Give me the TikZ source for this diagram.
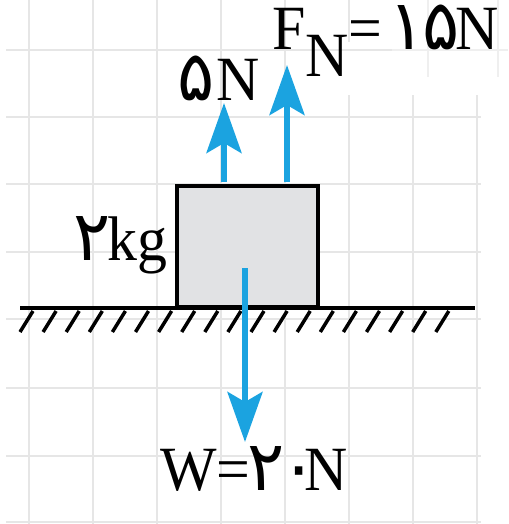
\documentclass[tikz,border=0pt]{standalone}
\usepackage{fontspec}
\setmainfont{Liberation Serif}[FakeStretch=0.95]
\newfontfamily\fa[Script=Arabic,Scale=1.1]{DejaVu Sans}
\usetikzlibrary{arrows.meta}
\definecolor{gridc}{HTML}{E6E6E6}
\definecolor{gridf}{HTML}{EFEFEF}
\definecolor{boxc}{HTML}{E1E2E4}
\definecolor{forcec}{HTML}{1BA3E0}
\tikzset{
  gridline/.style={draw=gridc, line width=2.5pt},
  gridfaint/.style={draw=gridf, line width=2pt},
  blockbox/.style={draw=black, fill=boxc, line width=4pt, minimum width=141pt, minimum height=121pt, inner sep=0pt},
  groundline/.style={draw=black, line width=4pt},
  hatchline/.style={draw=black, line width=3.5pt},
  force/.style={draw=forcec, line width=6pt, -{Stealth[length=50pt, width=35pt, inset=10pt]}},
  lab/.style={inner sep=0pt, font=\fontsize{63}{70}\selectfont}
}
\begin{document}
\begin{tikzpicture}[x=1pt,y=-1pt]
\useasboundingbox (0,0) rectangle (508,524);
% grid
\foreach \x in {29,93,157,221,285}
  \draw[gridline] (\x,0) -- (\x,524);
\draw[gridline] (349,0) -- (349,42);
\draw[gridline] (349,95) -- (349,524);
\foreach \x in {413,477}
  \draw[gridline] (\x,95) -- (\x,524);
\draw[gridline] (6,50) -- (392,50);
\foreach \y in {117,184,252,319,388,456,522}
  \draw[gridline] (6,\y) -- (481,\y);
\draw[gridfaint] (428,0) -- (428,77);
\draw[gridfaint] (498,0) -- (498,77);
\draw[gridfaint] (392,50) -- (508,50);
% ground
\coordinate (gl) at (20,308);
\coordinate (gr) at (475,308);
\foreach \i in {0,...,18}
  \draw[hatchline] ({20+23.1*\i},332) -- ({33+23.1*\i},311);
\draw[groundline] (gl) -- (gr);
% block
\node[blockbox] (box) at (247.5,246.5) {};
% forces
\coordinate (t1) at (224,103);
\coordinate (t2) at (287,65);
\coordinate (w0) at (245,268);
\coordinate (w1) at (245,442);
\draw[force] (t1 |- box.north) ++(0,-2) -- (t1);
\draw[force] (t2 |- box.north) ++(0,-2) -- (t2);
\draw[force] (w0) -- (w1);
% labels
\node[lab, anchor=base west] (l5) at (177,100) {{\fa ۵}\hspace{2pt}N};
\node[lab, anchor=base west] (lfn) at (272,50) {F\raisebox{-27pt}{N}=\hspace{6pt}{\fa ۱\hspace{-3pt}۵}\hspace{-4pt}N};
\node[lab, anchor=base east] (lkg) at (168,260) {{\fa ۲}\hspace{-3pt}kg};
\node[lab, anchor=base west] (lw) at (160,490) {W=\hspace{-3pt}{\fa ۲\hspace{-4pt}۰}\hspace{-13pt}N};
\end{tikzpicture}
\end{document}
